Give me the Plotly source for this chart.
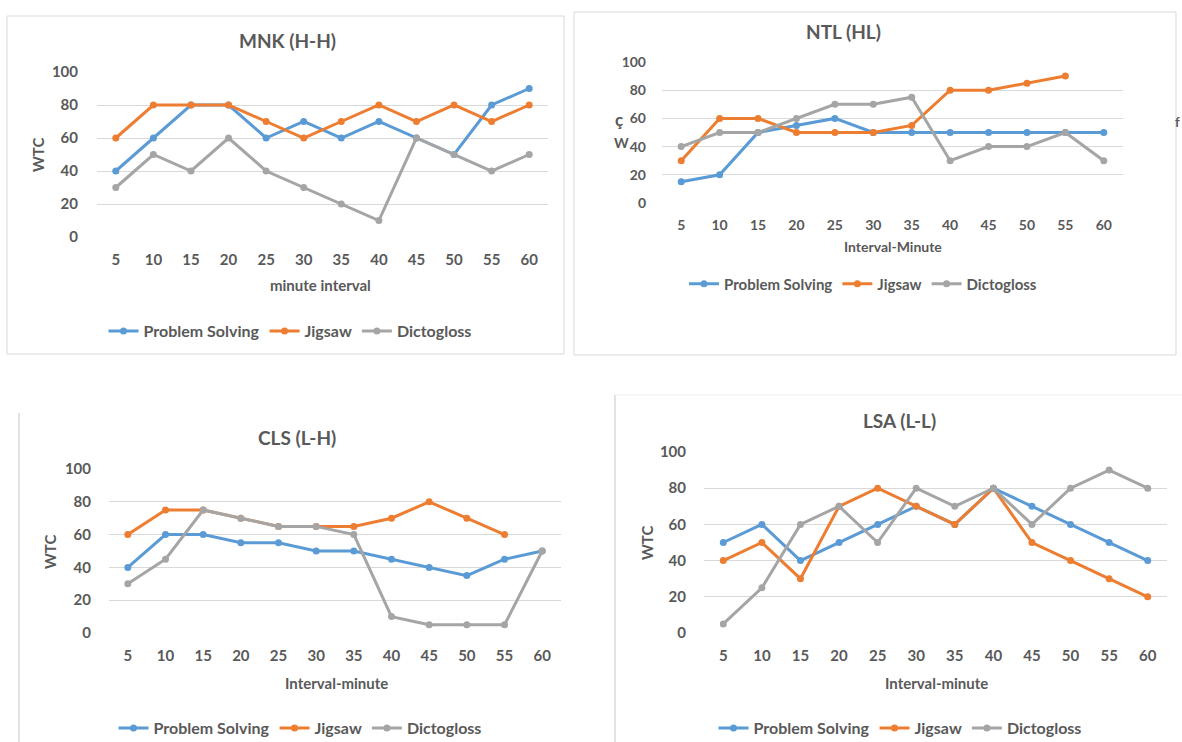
import plotly.graph_objects as go

W, H = 1182, 742

minutes = ["5", "10", "15", "20", "25", "30", "35", "40", "45", "50", "55", "60"]
series_names = ["Problem Solving", "Jigsaw", "Dictogloss"]
colors = ["#5B9BD5", "#ED7D31", "#A5A5A5"]
y_ticks = [0, 20, 40, 60, 80, 100]

# MNK (H-H)
mnk_ps = [40, 60, 80, 80, 60, 70, 60, 70, 60, 50, 80, 90]
mnk_jig = [60, 80, 80, 80, 70, 60, 70, 80, 70, 80, 70, 80]
mnk_dic = [30, 50, 40, 60, 40, 30, 20, 10, 60, 50, 40, 50]

# NTL (HL)
ntl_ps = [15, 20, 50, 55, 60, 50, 50, 50, 50, 50, 50, 50]
ntl_jig = [30, 60, 60, 50, 50, 50, 55, 80, 80, 85, 90, None]
ntl_dic = [40, 50, 50, 60, 70, 70, 75, 30, 40, 40, 50, 30]

# CLS (L-H)
cls_ps = [40, 60, 60, 55, 55, 50, 50, 45, 40, 35, 45, 50]
cls_jig = [60, 75, 75, 70, 65, 65, 65, 70, 80, 70, 60, None]
cls_dic = [30, 45, 75, 70, 65, 65, 60, 10, 5, 5, 5, 50]

# LSA (L-L)
lsa_ps = [50, 60, 40, 50, 60, 70, 60, 80, 70, 60, 50, 40]
lsa_jig = [40, 50, 30, 70, 80, 70, 60, 80, 50, 40, 30, 20]
lsa_dic = [5, 25, 60, 70, 50, 80, 70, 80, 60, 80, 90, 80]

FONT = "Lato"
TXT = "#595959"
GRID = "#D9D9D9"


def px(x):
    return x / W


def py(y):
    return 1 - y / H


panels = [
    dict(title="MNK (H-H)", xtitle="minute interval", ytitle="WTC",
         data=[mnk_ps, mnk_jig, mnk_dic],
         xd=(97, 548), yd=(237, 72), tpos=(287, 40), xtpos=(320, 285),
         ytpos=(38, 155), lpos=(290, 331), lstand=18, fs=15, lfs=16),
    dict(title="NTL (HL)", xtitle="Interval-Minute", ytitle=None,
         data=[ntl_ps, ntl_jig, ntl_dic],
         xd=(662, 1123), yd=(203, 62), tpos=(843, 31), xtpos=(893, 246),
         ytpos=None, lpos=(863, 284), lstand=15, fs=14, lfs=15),
    dict(title="CLS (L-H)", xtitle="Interval-minute", ytitle="WTC",
         data=[cls_ps, cls_jig, cls_dic],
         xd=(109, 561), yd=(633, 469), tpos=(297, 437), xtpos=(336, 683),
         ytpos=(50, 552), lpos=(300, 728), lstand=17, fs=15, lfs=16),
    dict(title="LSA (L-L)", xtitle="Interval-minute", ytitle="WTC",
         data=[lsa_ps, lsa_jig, lsa_dic],
         xd=(704, 1167), yd=(633, 452), tpos=(900, 420), xtpos=(936, 683),
         ytpos=(647, 543), lpos=(900, 728), lstand=17, fs=15, lfs=16),
]

fig = go.Figure()
annotations = []
layout_upd = {}

for i, p in enumerate(panels):
    n = "" if i == 0 else str(i + 1)
    xa, ya = "x" + n, "y" + n
    leg = "legend" + n
    for name, vals, col in zip(series_names, p["data"], colors):
        fig.add_trace(go.Scatter(
            x=minutes, y=vals, name=name, mode="lines+markers",
            line=dict(color=col, width=3), marker=dict(color=col, size=7),
            xaxis=xa, yaxis=ya, legend=leg, connectgaps=False,
        ))
    layout_upd["xaxis" + n] = dict(
        domain=[px(p["xd"][0]), px(p["xd"][1])], anchor=ya,
        type="category", range=[-0.5, 11.5], showgrid=False, zeroline=False,
        showline=False, ticks="", ticklabelstandoff=12,
        tickfont=dict(family=FONT, size=p["fs"], color=TXT, weight="bold"),
        fixedrange=True,
    )
    layout_upd["yaxis" + n] = dict(
        domain=[py(p["yd"][0]), py(p["yd"][1])], anchor=xa,
        range=[0, 100], tickvals=y_ticks, showgrid=True, gridcolor=GRID,
        gridwidth=1, zeroline=False, showline=False, ticks="",
        ticklabelstandoff=p["lstand"],
        tickfont=dict(family=FONT, size=p["fs"], color=TXT, weight="bold"),
        fixedrange=True,
    )
    layout_upd[leg] = dict(
        orientation="h", x=px(p["lpos"][0]), y=py(p["lpos"][1]),
        xanchor="center", yanchor="middle", bgcolor="rgba(0,0,0,0)",
        font=dict(family=FONT, size=p["lfs"], color=TXT, weight="bold"),
        itemwidth=30, tracegroupgap=0,
    )
    annotations.append(dict(
        text=p["title"], x=px(p["tpos"][0]), y=py(p["tpos"][1]),
        xref="paper", yref="paper", showarrow=False, xanchor="center",
        yanchor="middle", font=dict(family=FONT, size=19, color=TXT, weight="bold"),
    ))
    annotations.append(dict(
        text=p["xtitle"], x=px(p["xtpos"][0]), y=py(p["xtpos"][1]),
        xref="paper", yref="paper", showarrow=False, xanchor="center",
        yanchor="middle", font=dict(family=FONT, size=p["fs"], color=TXT, weight="bold"),
    ))
    if p["ytitle"]:
        annotations.append(dict(
            text=p["ytitle"], x=px(p["ytpos"][0]), y=py(p["ytpos"][1]),
            xref="paper", yref="paper", showarrow=False, xanchor="center",
            yanchor="middle", textangle=-90,
            font=dict(family=FONT, size=15, color=TXT, weight="bold"),
        ))

# garbled y-axis title remnants of the NTL panel
annotations.append(dict(text="ç", x=px(619), y=py(120), xref="paper", yref="paper",
                        showarrow=False, xanchor="center", yanchor="middle",
                        font=dict(family=FONT, size=17, color=TXT, weight="bold")))
annotations.append(dict(text="W", x=px(622), y=py(143), xref="paper", yref="paper",
                        showarrow=False, xanchor="center", yanchor="middle",
                        font=dict(family=FONT, size=14, color=TXT, weight="bold")))
annotations.append(dict(text="f", x=px(1177), y=py(122), xref="paper", yref="paper",
                        showarrow=False, xanchor="center", yanchor="middle",
                        font=dict(family=FONT, size=13, color=TXT, weight="bold")))

shapes = [
    dict(type="rect", xref="paper", yref="paper", x0=px(7), x1=px(564), y0=py(354), y1=py(16),
         line=dict(color=GRID, width=1)),
    dict(type="rect", xref="paper", yref="paper", x0=px(574), x1=px(1176), y0=py(355), y1=py(12),
         line=dict(color=GRID, width=1)),
    dict(type="line", xref="paper", yref="paper", x0=px(19), x1=px(19), y0=py(742), y1=py(413),
         line=dict(color=GRID, width=1.5)),
    dict(type="line", xref="paper", yref="paper", x0=px(615), x1=px(615), y0=py(742), y1=py(395),
         line=dict(color=GRID, width=1.5)),
    dict(type="line", xref="paper", yref="paper", x0=px(615), x1=px(1182), y0=py(395), y1=py(395),
         line=dict(color="#EEEEEE", width=1)),
]

fig.update_layout(
    width=W, height=H, margin=dict(l=0, r=0, t=0, b=0, autoexpand=False),
    paper_bgcolor="white", plot_bgcolor="white",
    annotations=annotations, shapes=shapes, showlegend=True,
    **layout_upd,
)

fig.write_html(
    "out.html",
    config={"displayModeBar": False},
    post_script="document.body.style.margin='0';document.body.style.overflow='hidden';",
)
